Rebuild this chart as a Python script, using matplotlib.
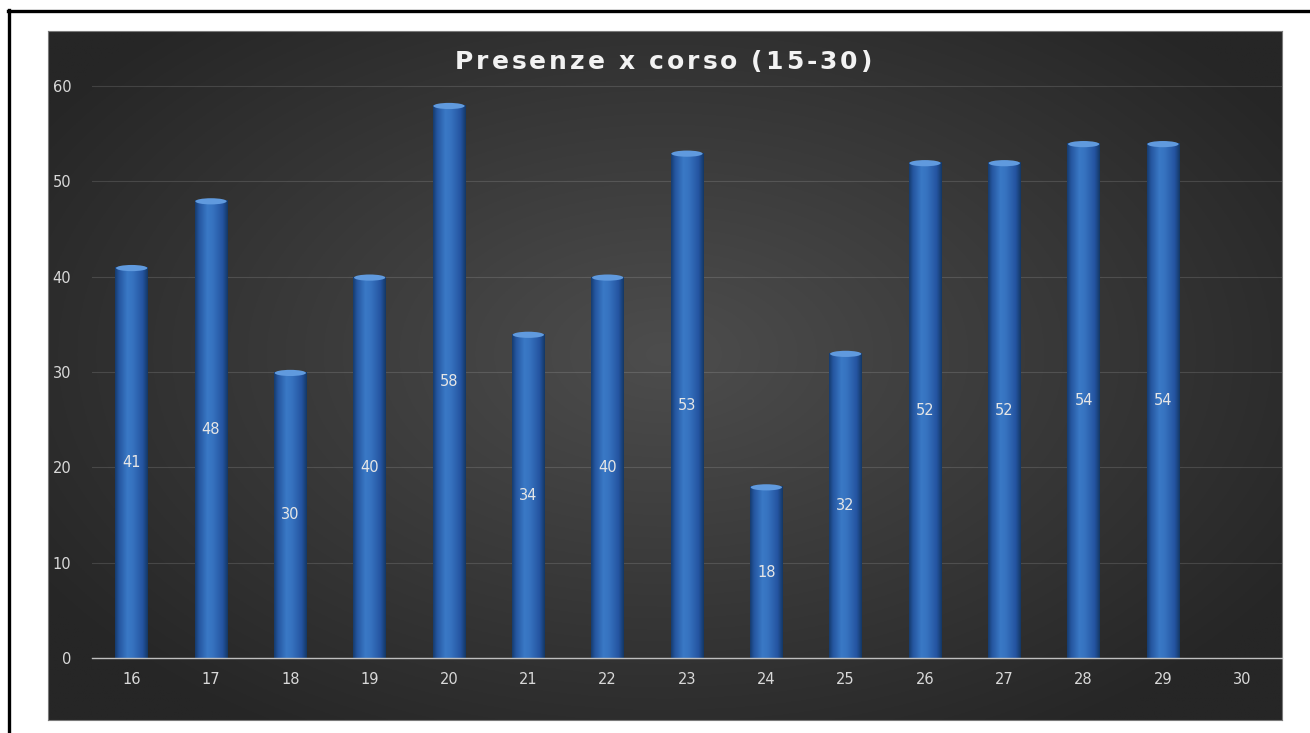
import numpy as np
import matplotlib
matplotlib.use("Agg")
import matplotlib.pyplot as plt
from matplotlib.lines import Line2D
from matplotlib.patches import Ellipse
from matplotlib.colors import LinearSegmentedColormap, to_rgb

# ---- data ----
categories = ["16", "17", "18", "19", "20", "21", "22", "23", "24", "25",
              "26", "27", "28", "29", "30"]
values = [41, 48, 30, 40, 58, 34, 40, 53, 18, 32, 52, 52, 54, 54, np.nan]
y_ticks = [0, 10, 20, 30, 40, 50, 60]
title = "Presenze x corso (15-30)"

W, H = 1310, 733
fig = plt.figure(figsize=(W / 100, H / 100), dpi=100)
fig.patch.set_facecolor("white")
FONT = "DejaVu Sans"


def fx(px):
    return px / W


def fy(py):
    return 1 - py / H


# outer frame (top and left)
fig.add_artist(Line2D([fx(8), 1.0], [fy(10.5), fy(10.5)], transform=fig.transFigure,
                      color="black", lw=2.4))
fig.add_artist(Line2D([fx(9), fx(9)], [fy(10), 0.0], transform=fig.transFigure,
                      color="black", lw=2.4))

# dark panel with radial gradient
bg = fig.add_axes([fx(48), fy(720), (1282 - 48) / W, (720 - 31) / H], zorder=0)
yy, xx = np.mgrid[0:1:400j, 0:1:700j]
r = np.sqrt(((xx - 0.5) / 0.6) ** 2 + ((yy - 0.47) / 0.65) ** 2)
t = np.clip(r / 1.0, 0, 1)
c_in = np.array(to_rgb("#4d4d4d"))
c_out = np.array(to_rgb("#262626"))
img = c_in[None, None, :] * (1 - t[..., None]) + c_out[None, None, :] * t[..., None]
bg.imshow(img, extent=[0, 1, 0, 1], aspect="auto", origin="upper")
bg.set_xlim(0, 1)
bg.set_ylim(0, 1)
bg.set_xticks([])
bg.set_yticks([])
for s in bg.spines.values():
    s.set_color("#7a7a7a")
    s.set_linewidth(0.8)

# main axes
ax = fig.add_axes([fx(92), fy(658), (1282 - 92) / W, (658 - 85) / H], zorder=1)
ax.patch.set_alpha(0)
x = np.arange(len(categories))
bw = 0.41
bars = ax.bar(x, values, width=bw, color="#2c66ad", zorder=3)

cyl = LinearSegmentedColormap.from_list(
    "cyl",
    [(0.0, "#163d70"), (0.12, "#2556a0"), (0.38, "#3a79c6"),
     (0.55, "#3672bf"), (0.85, "#2454a0"), (1.0, "#143866")])
grad = np.linspace(0, 1, 64)[None, :]

for b, v in zip(bars, values):
    if np.isnan(v):
        continue
    x0, w, h = b.get_x(), b.get_width(), b.get_height()
    im = ax.imshow(grad, cmap=cyl, extent=[x0, x0 + w, 0, h], aspect="auto",
                   zorder=3.5, interpolation="bilinear")
    im.set_clip_path(b)
    cap = Ellipse((x0 + w / 2, h - 0.1), w * 0.96, 0.65, facecolor="#609ade",
                  edgecolor="none", zorder=3.6)
    ax.add_patch(cap)
    ax.text(x0 + w / 2, v / 2, f"{int(v)}", ha="center", va="center",
            color="#e6e6e6", fontsize=10.5, family=FONT, zorder=5)

ax.set_xlim(-0.5, len(categories) - 0.5)
ax.set_ylim(0, 60.1)
ax.set_xticks(x)
ax.set_xticklabels(categories)
ax.set_yticks(y_ticks)
ax.tick_params(axis="y", length=0, pad=15, labelcolor="#d9d9d9", labelsize=10.5)
ax.tick_params(axis="x", length=0, pad=10, labelcolor="#d9d9d9", labelsize=10.5)
for lab in ax.get_xticklabels() + ax.get_yticklabels():
    lab.set_family(FONT)
for k in ["top", "right", "left"]:
    ax.spines[k].set_visible(False)
ax.spines["bottom"].set_color("#bfbfbf")
ax.spines["bottom"].set_linewidth(1.0)
ax.spines["bottom"].set_zorder(4)
ax.yaxis.grid(True, color="#ffffff", alpha=0.13, lw=0.8)
ax.set_axisbelow(True)

# letter-spaced title
fig.canvas.draw()
rend = fig.canvas.get_renderer()
fs = 18
widths = []
for ch in title:
    if ch == " ":
        widths.append(fs * 100 / 72 * 0.32)
        continue
    tt = fig.text(0, 0, ch, fontsize=fs, fontweight="bold", family=FONT)
    widths.append(tt.get_window_extent(rend).width)
    tt.remove()
target_w = 872 - 455
spacing = (target_w - sum(widths)) / (len(title) - 1)
cx = 455.0
for ch, wch in zip(title, widths):
    if ch != " ":
        fig.text(fx(cx), fy(69), ch, fontsize=fs, fontweight="bold", family=FONT,
                 color="#f2f2f2", ha="left", va="baseline")
    cx += wch + spacing

fig.savefig("out.png", dpi=100, facecolor="white")
